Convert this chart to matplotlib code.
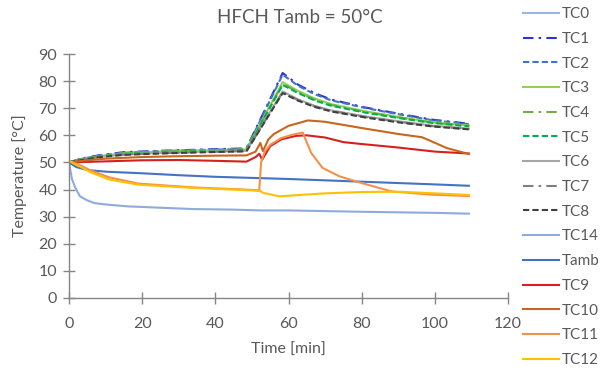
import matplotlib
matplotlib.use("Agg")
import matplotlib.pyplot as plt

plt.rcParams['font.family'] = ['Lato', 'DejaVu Sans']

# ---- data (time in min, temperature in degC)
t_top = [0, 3, 8, 15, 25, 35, 48.5, 58.4, 62.6, 67.1, 71.7, 80.9, 90, 99.2, 109.3]
tc1 = [50, 51.3, 52.6, 53.8, 54.3, 54.7, 55.2, 83.0, 78.7, 75.6, 73.2, 70.3, 68.0, 65.8, 64.3]
tc2 = [50, 51.2, 52.5, 53.6, 54.2, 54.6, 55.0, 82.4, 78.3, 75.2, 72.9, 70.1, 67.8, 65.6, 64.1]
tc3 = [50, 51.1, 52.3, 53.4, 54.0, 54.4, 54.8, 79.6, 76.4, 73.6, 71.5, 68.9, 66.8, 64.9, 63.6]
tc4 = [50, 51.0, 52.2, 53.3, 53.9, 54.3, 54.7, 79.0, 75.9, 73.2, 71.2, 68.6, 66.6, 64.7, 63.4]
tc5 = [50, 51.0, 52.2, 53.2, 53.8, 54.2, 54.6, 78.6, 75.6, 72.9, 70.9, 68.4, 66.4, 64.6, 63.3]
tc6 = [50, 50.9, 52.0, 53.0, 53.5, 53.9, 54.3, 76.2, 73.3, 70.9, 69.2, 67.0, 65.2, 63.6, 62.5]
tc7 = [50, 50.9, 52.0, 52.9, 53.4, 53.8, 54.2, 75.9, 73.0, 70.7, 69.0, 66.8, 65.0, 63.4, 62.3]
tc8 = [50, 50.8, 51.9, 52.8, 53.3, 53.7, 54.1, 75.6, 72.8, 70.5, 68.8, 66.6, 64.8, 63.3, 62.2]

tc0_t = []
tc0 = []

tc14_t = [0, 0.8, 1.6, 3, 5, 7, 10, 16, 25, 34, 45, 52, 60, 80, 100, 109.3]
tc14 = [50, 44, 41, 37.5, 36, 35, 34.5, 33.8, 33.3, 32.8, 32.6, 32.3, 32.3, 31.8, 31.4, 31.1]

tamb_t = [0, 2, 5, 10, 20, 30, 40, 50, 60, 70, 80, 90, 100, 109.3]
tamb = [50, 48.3, 47.2, 46.6, 46.0, 45.3, 44.7, 44.3, 43.9, 43.4, 42.9, 42.4, 41.9, 41.4]

tc9_t = [0, 5, 10, 20, 30, 40, 48.5, 51, 52, 52.8, 55, 58, 62, 65, 70, 75, 80, 90, 100, 109.3]
tc9 = [50, 50.2, 50.4, 50.8, 50.9, 50.6, 50.3, 52, 53.2, 51, 56, 58.5, 59.8, 60, 59.2, 57.5, 56.8, 55.5, 54.0, 53.3]

tc10_t = [0, 5, 10, 20, 30, 40, 48.5, 51, 52.3, 53, 54.5, 56, 60, 65.3, 70, 80, 90, 96.5, 103.3, 109.3]
tc10 = [50, 50.8, 51.4, 52.0, 52.3, 52.5, 52.6, 54, 57.2, 54.2, 58.5, 60.5, 63.5, 65.5, 65.0, 62.7, 60.5, 59.3, 55.3, 53.1]

tc11_t = [0, 3, 6, 11, 19, 34, 48, 52, 52.5, 53.5, 55, 58, 61, 63.9, 66.2, 69.3, 73.9, 80, 88.2, 99.2, 109.3]
tc11 = [50.5, 49, 47, 44.5, 42.2, 40.8, 40, 39.7, 50, 54, 56.5, 59, 60.2, 61, 53.5, 48, 44.9, 42.4, 39.3, 38.1, 37.6]

tc12_t = [0, 3, 6, 11, 19, 34, 48, 52.3, 53, 57.5, 62, 70, 80, 90, 100, 109.3]
tc12 = [50.5, 48.5, 46.3, 43.7, 41.8, 40.6, 39.8, 39.5, 38.8, 37.5, 37.9, 38.6, 39.1, 39.2, 38.6, 38.0]

x_ticks = [0, 20, 40, 60, 80, 100, 120]
y_ticks = [0, 10, 20, 30, 40, 50, 60, 70, 80, 90]

# ---- figure
fig = plt.figure(figsize=(6.03, 3.71), dpi=100)
ax = fig.add_axes([0.1144, 0.1968, 0.7281, 0.6576])

dashdot = (0, (5, 2.5, 1.2, 2.5))
dash = (0, (3, 1.5))
lw = 1.5

ax.plot(tc0_t, tc0, color='#9db5e0', lw=lw, label='TC0')
ax.plot(t_top, tc1, color='#2e35c8', lw=lw, ls=dashdot, label='TC1')
ax.plot(t_top, tc2, color='#4472c4', lw=lw, ls=dash, label='TC2')
ax.plot(t_top, tc3, color='#92d050', lw=lw, label='TC3')
ax.plot(t_top, tc4, color='#70ad47', lw=lw, ls=dashdot, label='TC4')
ax.plot(t_top, tc5, color='#00b050', lw=lw, ls=dash, label='TC5')
ax.plot(t_top, tc6, color='#a5a5a5', lw=lw, label='TC6')
ax.plot(t_top, tc7, color='#7f7f7f', lw=lw, ls=dashdot, label='TC7')
ax.plot(t_top, tc8, color='#404040', lw=lw, ls=dash, label='TC8')
ax.plot(tc14_t, tc14, color='#8faadc', lw=lw, label='TC14')
ax.plot(tamb_t, tamb, color='#4472c4', lw=lw, label='Tamb')
ax.plot(tc9_t, tc9, color='#d42020', lw=lw, label='TC9')
ax.plot(tc10_t, tc10, color='#c9651e', lw=lw, label='TC10')
ax.plot(tc11_t, tc11, color='#f4904a', lw=lw, label='TC11')
ax.plot(tc12_t, tc12, color='#ffc000', lw=lw, label='TC12')

ax.set_xlim(0, 120)
ax.set_ylim(0, 90)
ax.set_xticks(x_ticks)
ax.set_yticks(y_ticks)

txt = '#595959'
for s in ['top', 'right']:
    ax.spines[s].set_visible(False)
for s in ['left', 'bottom']:
    ax.spines[s].set_color('#868686')
    ax.spines[s].set_linewidth(1.0)
ax.tick_params(direction='inout', length=9, width=1.0, color='#868686',
               labelcolor=txt, labelsize=11.5)
ax.tick_params(axis='y', pad=4)
ax.tick_params(axis='x', pad=9.5)

ax.set_xlabel('Time [min]', fontsize=11.5, color=txt, labelpad=8)
ax.set_ylabel('Temperature [°C]', fontsize=11.5, color=txt, labelpad=8)
fig.suptitle('HFCH Tamb = 50°C', x=0.497, y=0.975, fontsize=13.5, color=txt)

fig.legend(loc='upper left', bbox_to_anchor=(0.858, 0.997), frameon=False,
           fontsize=11, labelcolor=txt, handlelength=2.3, handletextpad=0.2,
           labelspacing=0.70, borderaxespad=0)

fig.savefig('out.png', dpi=100)
